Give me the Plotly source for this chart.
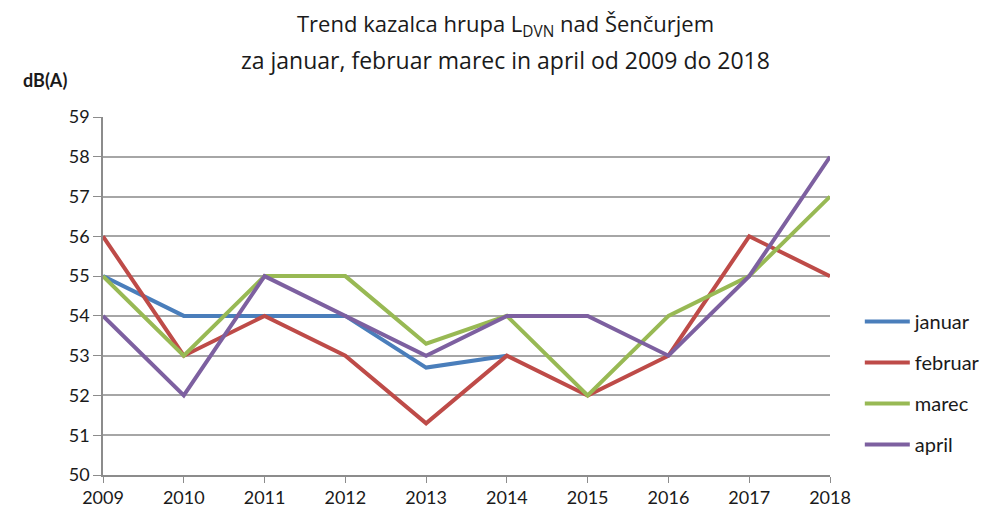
import plotly.graph_objects as go

years = [2009, 2010, 2011, 2012, 2013, 2014, 2015, 2016, 2017, 2018]
januar = [55, 54, 54, 54, 52.7, 53, None, None, None, None]
februar = [56, 53, 54, 53, 51.3, 53, 52, 53, 56, 55]
marec = [55, 53, 55, 55, 53.3, 54, 52, 54, 55, 57]
april = [54, 52, 55, 54, 53, 54, 54, 53, 55, 58]
y_ticks = [50, 51, 52, 53, 54, 55, 56, 57, 58, 59]

series = [
    ("januar", januar, "#4A7EBB"),
    ("februar", februar, "#BE4B48"),
    ("marec", marec, "#98B954"),
    ("april", april, "#7D60A0"),
]

FONT = "Lato, Open Sans, sans-serif"
TFONT = "Open Sans, Lato, sans-serif"
TXT = "#1a1a1a"

fig = go.Figure()
for i, (name, vals, col) in enumerate(series):
    fig.add_trace(go.Scatter(
        x=years, y=vals, name=name, mode="lines",
        line=dict(color=col, width=4), legendgroup=f"g{i}",
        connectgaps=False,
    ))

fig.update_layout(
    width=990, height=517,
    paper_bgcolor="white", plot_bgcolor="white",
    margin=dict(l=95, r=168, t=109, b=50),
    font=dict(family=FONT, color=TXT, size=18),
    showlegend=True,
    legend=dict(
        x=1.041, xanchor="left", y=0.257, yanchor="middle",
        font=dict(family=FONT, size=20, color=TXT),
        tracegroupgap=12, itemwidth=45, bgcolor="rgba(0,0,0,0)",
    ),
)

fig.update_xaxes(
    range=[2009, 2018], tickmode="array", tickvals=years,
    ticktext=[str(y) for y in years],
    showgrid=False, zeroline=False,
    showline=True, linecolor="#8C8C8C", linewidth=1.5,
    ticks="outside", ticklen=6, tickcolor="#8C8C8C",
    tickfont=dict(family=FONT, size=18, color=TXT),
)
fig.update_yaxes(
    range=[50, 59], tickmode="array", tickvals=y_ticks,
    showgrid=True, gridcolor="#A6A6A6", gridwidth=1.5, zeroline=False,
    showline=True, linecolor="#8C8C8C", linewidth=1.5,
    ticks="outside", ticklen=8, tickcolor="#8C8C8C",
    tickfont=dict(family=FONT, size=18, color=TXT),
)

# Title (two lines)
fig.add_annotation(
    text="Trend kazalca hrupa L<sub>DVN</sub> nad Šenčurjem",
    xref="paper", yref="paper", x=0.553, y=1.257,
    xanchor="center", yanchor="middle", showarrow=False,
    font=dict(family=TFONT, size=22, color=TXT),
)
fig.add_annotation(
    text="za januar, februar marec in april od 2009 do 2018",
    xref="paper", yref="paper", x=0.553, y=1.159,
    xanchor="center", yanchor="middle", showarrow=False,
    font=dict(family=TFONT, size=23, color=TXT),
)
fig.add_annotation(
    text="<b>dB(A)</b>", xref="paper", yref="paper",
    x=-0.08, y=1.103, xanchor="center", yanchor="middle",
    showarrow=False, font=dict(family=FONT, size=18, color=TXT),
)

fig.write_html("out.html")
